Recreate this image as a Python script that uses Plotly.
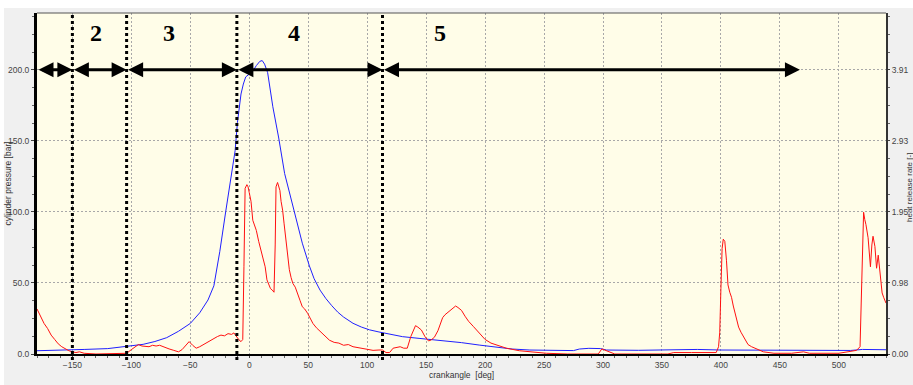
import plotly.graph_objects as go

# ---------------- data ----------------
# cylinder pressure [bar] vs crank angle [deg]
p_angle = [-180, -160, -140, -120, -100, -90, -80, -70, -60, -50, -42, -35, -30, -25, -20, -15, -12,
           -10, -7, -5, -3, 0, 3, 6, 9, 11, 13, 15.6, 18, 20, 25, 30, 34, 40, 45, 51, 55, 60, 65, 70,
           75, 80, 88, 95, 102, 110, 116, 130, 144, 155, 167, 180, 195, 210, 223, 238, 260, 275, 280,
           288, 298, 303, 330, 360, 380, 400, 440, 480, 510, 520, 540]
p_bar = [2.3, 2.6, 3.2, 3.8, 5.5, 6.8, 8.8, 11.5, 16, 21.5, 29, 38, 48, 72, 100, 126, 143,
         163, 183, 190, 195, 197, 199, 203, 206, 206.5, 204, 198, 185, 174, 152, 127, 114, 94, 78, 62, 53, 45, 39, 34,
         29.5, 26, 21.6, 19, 17, 15.5, 14.5, 12.2, 11, 10.2, 9.4, 8, 6.3, 5, 3.5, 2.8, 2.3, 2.4, 3.5,
         4, 3.8, 2.8, 2.6, 2.8, 3.2, 2.8, 2.8, 2.6, 2.5, 3.2, 3.0]

# heat release rate [-] vs crank angle [deg]
h_angle = [-180, -177, -174, -171, -168, -165, -162, -159, -156, -153, -150, -147, -144, -140, -130, -120,
           -110, -104, -100, -97, -94, -91, -88, -85, -82, -79, -76, -72, -68, -64, -60, -57, -54, -51,
           -48, -45, -42, -39, -36, -33, -30, -27, -24, -21, -18, -15, -13, -11, -9, -7, -5.5, -4.5,
           -3.5, -2, -1, 0, 1.5, 3, 4.5, 6, 8, 10, 12, 13.5, 15, 16.5, 18, 19.5, 21, 22, 22.7, 24, 25,
           26, 27, 28.3, 29.5, 31, 32.5, 34, 35.5, 37, 39, 41, 43, 45, 47, 49.5, 52, 54, 57, 60, 64,
           68, 72, 76, 80, 84, 88, 92, 96, 100, 105, 110, 113, 116, 119, 122, 125, 128, 131, 134,
           137, 139, 141, 143, 146, 149, 152, 154, 157, 160, 162, 164, 166, 169, 172, 175, 177, 180,
           183, 186, 190, 195, 200, 205, 210, 218, 229, 240, 252, 270, 296, 299, 302, 306, 310, 355,
           360, 375, 390, 396, 398, 399, 400, 401, 402, 403.3, 404.7, 406, 407.5, 409, 410.5, 412,
           413.5, 415, 417, 419, 421, 423, 426, 429, 432, 436, 445, 460, 470, 475, 500, 515, 518,
           519, 520, 521, 522, 523, 524.8, 526, 526.8, 528, 529, 530.6, 532, 533.4, 534.8, 535.8,
           536.7, 538, 539, 540]
h_rate = [0.62, 0.52, 0.42, 0.35, 0.26, 0.2, 0.14, 0.1, 0.07, 0.045, 0.03, 0.02, 0.03, 0.01, 0.0, 0.0,
          0.005, 0.01, 0.06, 0.1, 0.13, 0.11, 0.1, 0.1, 0.12, 0.11, 0.12, 0.09, 0.07, 0.05, 0.03, 0.06, 0.12, 0.17,
          0.12, 0.08, 0.1, 0.13, 0.15, 0.18, 0.22, 0.24, 0.26, 0.25, 0.28, 0.27, 0.29, 0.24, 0.2, 0.17, 0.2, 1.2,
          2.28, 2.33, 2.3, 2.22, 2.1, 1.84, 1.76, 1.7, 1.55, 1.43, 1.3, 1.2, 1.02, 0.95, 0.9, 0.88, 0.85, 1.5, 2.3, 2.36, 2.3,
          2.25, 2.1, 1.98, 1.8, 1.6, 1.35, 1.16, 1.05, 0.97, 0.92, 0.84, 0.74, 0.65, 0.62, 0.56, 0.47, 0.42, 0.36, 0.31, 0.25,
          0.19, 0.16, 0.15, 0.12, 0.13, 0.1, 0.09, 0.07, 0.06, 0.05, 0.055, 0.055, 0.02, 0.02, 0.08, 0.09, 0.1, 0.08, 0.08,
          0.24, 0.33, 0.39, 0.37, 0.33, 0.24, 0.18, 0.19, 0.23, 0.32, 0.41, 0.5, 0.54, 0.58, 0.63, 0.66, 0.64, 0.6,
          0.52, 0.45, 0.38, 0.29, 0.2, 0.15, 0.12, 0.08, 0.045, 0.03, 0.01, 0.0, 0.0, 0.07, 0.05, 0.02, 0.0, 0.0,
          0.02, 0.02, 0.02, 0.02, 0.1, 0.3, 0.9, 1.45, 1.58, 1.55, 1.29, 0.95, 0.85, 0.78, 0.66, 0.56,
          0.45, 0.37, 0.3, 0.24, 0.18, 0.13, 0.1, 0.08, 0.05, 0.03, 0.01, 0.01, 0.03, 0.01, 0.01, 0.05, 0.1,
          0.74, 1.6, 1.95, 1.85, 1.78, 1.6, 1.4, 1.2, 1.5, 1.62, 1.48, 1.18, 1.36, 1.13, 1.0,
          0.84, 0.78, 0.74, 0.7]

# phase boundaries [deg] and labels
phase_bounds = [-180, -150, -104, -10.5, 113, 467]
phase_labels = ["2", "3", "4", "5"]
phase_label_x = [-130, -68, 38, 162]
arrow_level = 200
label_level = 226

x_ticks = [-150, -100, -50, 0, 50, 100, 150, 200, 250, 300, 350, 400, 450, 500]
y_ticks = [0, 50, 100, 150, 200]
y_ticktext = ["0.0", "50.0", "100.0", "150.0", "200.0"]
y2_ticktext = ["0.00", "0.98", "1.95", "2.93", "3.91"]
y_max = 240
y2_per_bar = 3.91 / 200

# ---------------- figure ----------------
W, H = 913, 385
ML, MR, MT, MB = 37, 27, 13, 31
pw, ph = W - ML - MR, H - MT - MB

def px_x(px):
    return (px - ML) / pw

def px_y(py):
    return (H - MB - py) / ph

tick_font = dict(family="Liberation Sans, Arial", size=8.5, color="#444444")
title_font = dict(family="Liberation Sans, Arial", size=8.5, color="#333333")

fig = go.Figure()
fig.add_trace(go.Scatter(x=p_angle, y=p_bar, mode="lines",
                         line=dict(color="#2020ff", width=1), yaxis="y", showlegend=False))
fig.add_trace(go.Scatter(x=h_angle, y=h_rate, mode="lines",
                         line=dict(color="#ff1010", width=1), yaxis="y2", showlegend=False))

shapes = []
# white page strip around the panel
shapes.append(dict(type="rect", xref="paper", yref="paper", x0=px_x(0), x1=px_x(W),
                   y0=px_y(8), y1=px_y(0), fillcolor="white", line=dict(width=0), layer="above"))
shapes.append(dict(type="rect", xref="paper", yref="paper", x0=px_x(0), x1=px_x(4),
                   y0=px_y(H), y1=px_y(0), fillcolor="white", line=dict(width=0), layer="above"))
# top border
shapes.append(dict(type="line", xref="paper", yref="paper", x0=0, x1=1, y0=1, y1=1,
                   line=dict(color="#555555", width=1)))
# dotted phase boundaries
for b in phase_bounds[1:-1]:
    shapes.append(dict(type="line", xref="x", yref="paper", x0=b, x1=b, y0=px_y(360), y1=1,
                       line=dict(color="black", width=3, dash="dot"), layer="above"))

annotations = []
for a, b in zip(phase_bounds[:-1], phase_bounds[1:]):
    annotations.append(dict(x=b, y=arrow_level, ax=a, ay=arrow_level, xref="x", yref="y",
                            axref="x", ayref="y", text="", showarrow=True,
                            arrowside="end+start", arrowhead=2, startarrowhead=2,
                            arrowsize=1, startarrowsize=1, arrowwidth=3, arrowcolor="black",
                            standoff=0, startstandoff=0))
for lx, lt in zip(phase_label_x, phase_labels):
    annotations.append(dict(x=lx, y=label_level, xref="x", yref="y", text="<b>%s</b>" % lt,
                            showarrow=False, font=dict(family="Liberation Serif, Times New Roman",
                                                       size=24, color="black")))
# axis titles
annotations.append(dict(x=0.5, y=px_y(375), xref="paper", yref="paper",
                        xanchor="center", yanchor="middle",
                        text="crankangle \u00a0[deg]", showarrow=False, font=title_font))
annotations.append(dict(x=px_x(7), y=0.5, xref="paper", yref="paper", textangle=-90,
                        xanchor="center", yanchor="middle",
                        text="cylinder pressure [bar]", showarrow=False, font=title_font))
annotations.append(dict(x=px_x(909), y=px_y(188), xref="paper", yref="paper", textangle=-90,
                        xanchor="center", yanchor="middle",
                        text="heat release rate [-]", showarrow=False,
                        font=dict(family="Liberation Sans, Arial", size=8, color="#333333")))

fig.update_layout(
    width=W, height=H,
    margin=dict(l=ML, r=MR, t=MT, b=MB, pad=0),
    paper_bgcolor="#f0f0f0",
    plot_bgcolor="#fffde8",
    shapes=shapes,
    annotations=annotations,
    xaxis=dict(range=[-180, 540], tickmode="array", tickvals=x_ticks, automargin=False,
               showgrid=True, gridcolor="#a8a8a8", griddash="2px,2px", gridwidth=1,
               zeroline=False, showline=True, linecolor="black", linewidth=2,
               ticks="outside", ticklen=2, tickcolor="#444444", tickfont=tick_font,
               minor=dict(dtick=10, tick0=0, ticks="outside", ticklen=2, tickcolor="#666666", showgrid=False)),
    yaxis=dict(range=[0, y_max], tickmode="array", tickvals=y_ticks, ticktext=y_ticktext, automargin=False,
               showgrid=True, gridcolor="#a8a8a8", griddash="2px,2px", gridwidth=1,
               zeroline=False, showline=True, linecolor="black", linewidth=3,
               ticks="outside", ticklen=3, tickcolor="#444444", tickfont=tick_font,
               minor=dict(dtick=12.5, tick0=0, ticks="outside", ticklen=2, tickcolor="#666666", showgrid=False)),
    yaxis2=dict(range=[0, y_max * y2_per_bar], overlaying="y", side="right", automargin=False,
                tickmode="array", tickvals=[v * y2_per_bar for v in y_ticks], ticktext=y2_ticktext,
                showgrid=False, zeroline=False, showline=True, linecolor="#333333", linewidth=2,
                ticks="outside", ticklen=2, tickcolor="#444444", tickfont=tick_font,
                minor=dict(dtick=12.5 * y2_per_bar, tick0=0, ticks="outside", ticklen=2,
                           tickcolor="#666666", showgrid=False)),
)

fig.write_html("out.html", config={"displayModeBar": False},
               post_script="document.body.style.margin='0';document.body.style.overflow='hidden';")
